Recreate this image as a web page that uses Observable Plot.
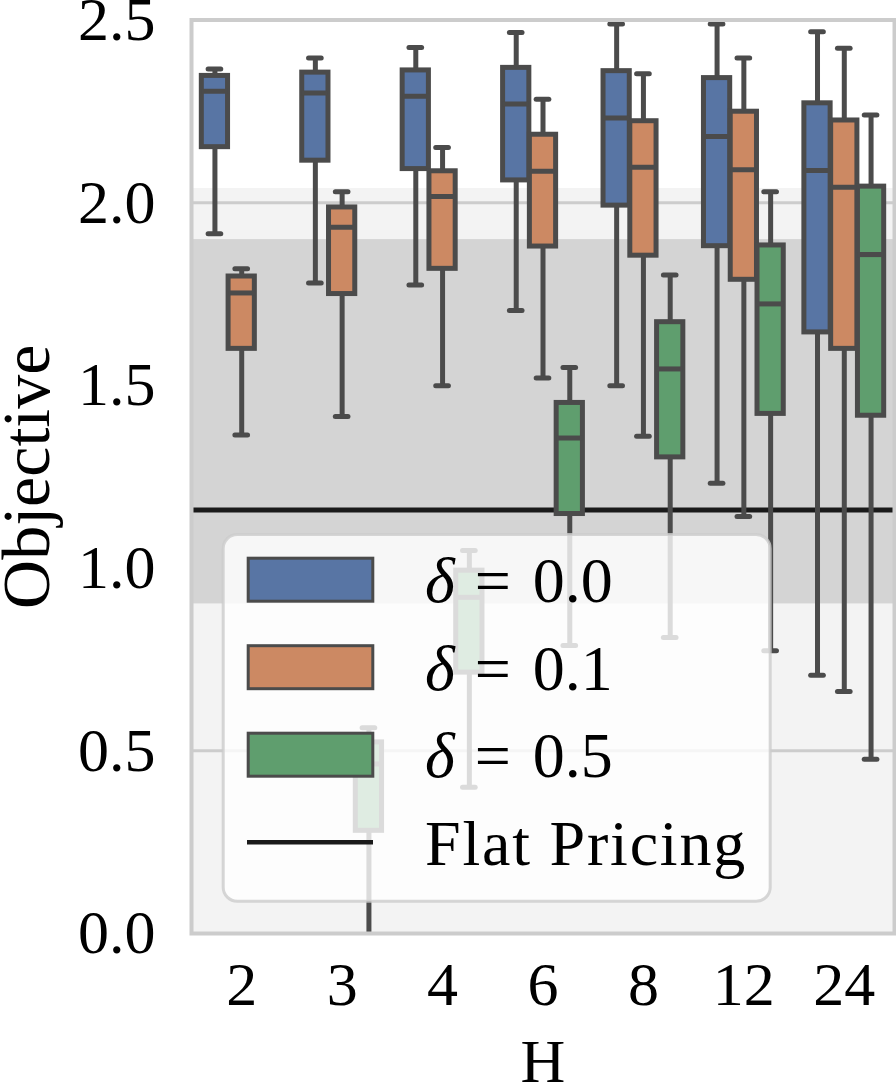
<!DOCTYPE html>
<html><head><meta charset="utf-8">
<script src="https://cdn.jsdelivr.net/npm/d3@7"></script>
<script src="https://cdn.jsdelivr.net/npm/@observablehq/plot@0.6"></script>
<style>
body{margin:0;background:#fff;}
#wrap{position:relative;width:896px;height:1088px;font-family:"Liberation Serif",serif;}
#legend{position:absolute;left:0;top:0;pointer-events:none;}
</style></head><body><div id="wrap"></div>
<script>
// Categories
const H = ["2", "3", "4", "6", "8", "12", "24"];
const deltaLabels = ["0.0", "0.1", "0.5"];
const colors = ["#5875a4", "#cc8963", "#5f9e6e"];
// Box statistics per H: [lower whisker, Q1, median, Q3, upper whisker]
const delta00 = [
  [1.915, 2.152, 2.305, 2.347, 2.366],
  [1.780, 2.115, 2.300, 2.356, 2.396],
  [1.775, 2.092, 2.291, 2.362, 2.425],
  [1.705, 2.061, 2.270, 2.369, 2.466],
  [1.499, 1.992, 2.232, 2.360, 2.489],
  [1.232, 1.881, 2.181, 2.341, 2.489],
  [0.707, 1.645, 2.088, 2.272, 2.468]
];
const delta01 = [
  [1.364, 1.600, 1.753, 1.798, 1.819],
  [1.415, 1.750, 1.933, 1.987, 2.030],
  [1.499, 1.819, 2.017, 2.086, 2.151],
  [1.520, 1.880, 2.086, 2.186, 2.283],
  [1.361, 1.855, 2.097, 2.223, 2.353],
  [1.141, 1.789, 2.090, 2.249, 2.396],
  [0.662, 1.600, 2.042, 2.225, 2.423]
];
const delta05 = [
  null, // below the visible range
  [-0.2, 0.281, 0.464, 0.523, 0.563],
  [0.400, 0.714, 0.920, 0.993, 1.048],
  [0.788, 1.148, 1.356, 1.452, 1.549],
  [0.810, 1.303, 1.545, 1.673, 1.802],
  [0.774, 1.422, 1.723, 1.883, 2.030],
  [0.477, 1.417, 1.858, 2.044, 2.240]
];
const flatPricing = [1.159];
const lightBand = [0, 2.039];
const darkBand = [0.902, 1.899];
const yTicks = [0, 0.5, 1.0, 1.5, 2.0, 2.5];

const series = [delta00, delta01, delta05];
const boxes = [];
series.forEach((vals, j) => vals.forEach((s, i) => {
  if (!s) return;
  boxes.push({i, j, H: H[i], delta: deltaLabels[j], lo: s[0], q1: s[1], med: s[2], q3: s[3], hi: s[4], cx: i + (j - 1) * 0.8 / 3});
}));
const hw = 0.8 / 3 * 0.98 / 2;
const cw = 0.063;
const gray = "#4b4b4b";

const chart = Plot.plot({
  width: 896, height: 1088,
  marginTop: 19.5, marginBottom: 155, marginLeft: 191, marginRight: 2,
  style: {fontFamily: '"Liberation Serif", serif', fontSize: "62px", color: "#000", background: "transparent"},
  x: {domain: [-0.5, H.length - 0.5], label: null},
  y: {domain: [0, 2.5], label: null},
  color: {domain: deltaLabels, range: colors},
  marks: [
    Plot.rect([lightBand], {y1: d => d[0], y2: d => d[1], fill: "#f3f3f3"}),
    Plot.gridY(yTicks, {stroke: "#cccccc", strokeOpacity: 1, strokeWidth: 3}),
    Plot.rect([darkBand], {y1: d => d[0], y2: d => d[1], fill: "#d4d4d4"}),
    Plot.ruleY(flatPricing, {stroke: "#1a1a1a", strokeWidth: 5}),
    Plot.ruleX(boxes, {x: "cx", y1: "q3", y2: "hi", stroke: gray, strokeWidth: 5, clip: true}),
    Plot.ruleX(boxes, {x: "cx", y1: "lo", y2: "q1", stroke: gray, strokeWidth: 5, clip: true}),
    Plot.ruleY(boxes, {y: "hi", x1: d => d.cx - cw, x2: d => d.cx + cw, stroke: gray, strokeWidth: 5, strokeLinecap: "round", clip: true}),
    Plot.ruleY(boxes, {y: "lo", x1: d => d.cx - cw, x2: d => d.cx + cw, stroke: gray, strokeWidth: 5, strokeLinecap: "round", clip: true}),
    Plot.rect(boxes, {x1: d => d.cx - hw, x2: d => d.cx + hw, y1: "q1", y2: "q3", fill: "delta", stroke: gray, strokeWidth: 5, clip: true}),
    Plot.ruleY(boxes, {y: "med", x1: d => d.cx - hw, x2: d => d.cx + hw, stroke: gray, strokeWidth: 5, clip: true}),
    Plot.axisY({ticks: yTicks, tickFormat: d3.format(".1f"), tickSize: 0, tickPadding: 36, label: null}),
    Plot.axisX({ticks: d3.range(H.length), tickFormat: i => H[i], tickSize: 0, tickPadding: 27, label: null}),
    Plot.text(["Objective"], {text: d => d, frameAnchor: "left", rotate: -90, dx: -164, fontSize: 68, textAnchor: "middle", lineAnchor: "middle"}),
    Plot.text(["H"], {text: d => d, frameAnchor: "bottom", dy: 129, fontSize: 62, textAnchor: "middle", lineAnchor: "middle"}),
    Plot.frame({stroke: "#cccccc", strokeWidth: 4})
  ]
});
const wrap = document.getElementById("wrap");
wrap.appendChild(chart);

// Legend overlay (inside the axes, semi-transparent like matplotlib)
const lg = d3.select(wrap).append("svg").attr("id", "legend").attr("width", 896).attr("height", 1088)
  .style("font-family", '"Liberation Serif", serif');
lg.append("rect").attr("x", 223.2).attr("y", 534.5).attr("width", 547).attr("height", 366.7).attr("rx", 14)
  .attr("fill", "#fff").attr("fill-opacity", 0.8).attr("stroke", "#cccccc").attr("stroke-opacity", 0.8).attr("stroke-width", 3);
const pitch = 87.5;
deltaLabels.forEach((lab, j) => {
  lg.append("rect").attr("x", 248.2).attr("y", 558.2 + pitch * j).attr("width", 124.6).attr("height", 43)
    .attr("fill", colors[j]).attr("stroke", gray).attr("stroke-width", 3);
  const t = lg.append("text").attr("x", 425).attr("y", 602 + pitch * j).attr("font-size", 64).attr("fill", "#000");
  t.append("tspan").attr("font-style", "italic").text("δ");
  t.append("tspan").attr("dx", 20).text("=");
  t.append("tspan").attr("dx", 22).text(lab);
});
lg.append("line").attr("x1", 247).attr("x2", 373).attr("y1", 842.3).attr("y2", 842.3)
  .attr("stroke", "#1a1a1a").attr("stroke-width", 4.5);
lg.append("text").attr("x", 425).attr("y", 602 + pitch * 3).attr("font-size", 64).attr("letter-spacing", 1.8).attr("fill", "#000").text("Flat Pricing");
</script></body></html>
